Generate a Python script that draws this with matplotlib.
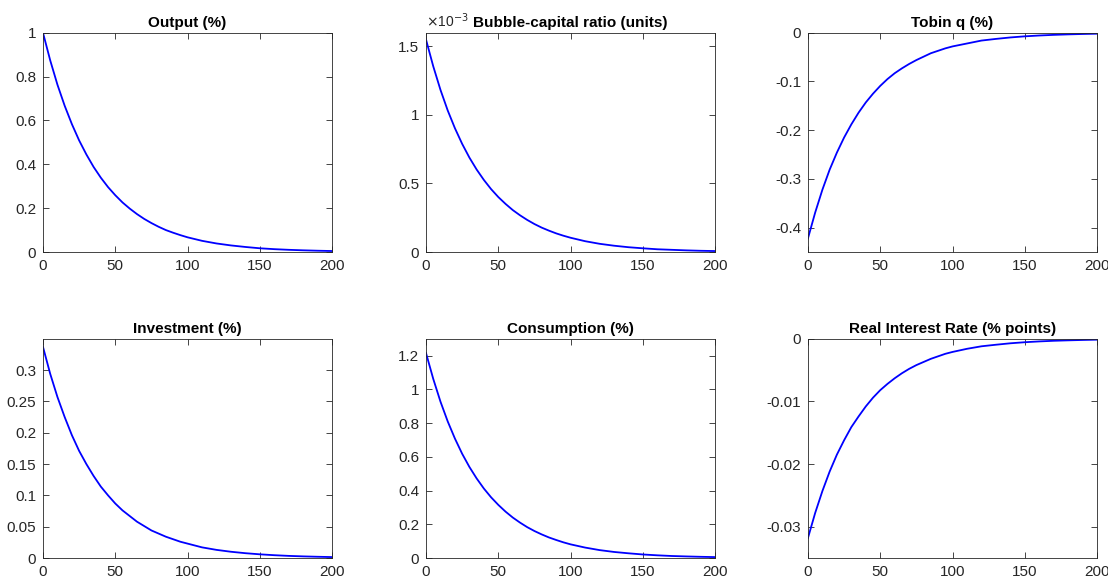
import matplotlib.pyplot as plt
from matplotlib.ticker import FuncFormatter

periods = [0, 5, 10, 15, 20, 25, 30, 35, 40, 45, 50, 55, 60, 65, 70, 75, 80,
           85, 90, 95, 100, 110, 120, 130, 140, 150, 160, 170, 180, 190, 200]

output = [1.0, 0.874, 0.763, 0.667, 0.583, 0.509, 0.445, 0.388, 0.339, 0.296,
          0.259, 0.226, 0.198, 0.173, 0.151, 0.132, 0.115, 0.100, 0.088,
          0.077, 0.067, 0.051, 0.039, 0.030, 0.023, 0.017, 0.013, 0.010,
          0.0077, 0.0059, 0.0045]
bubble_ratio = [1.55e-3, 1.355e-3, 1.183e-3, 1.033e-3, 0.903e-3, 0.789e-3,
                0.689e-3, 0.602e-3, 0.526e-3, 0.459e-3, 0.401e-3, 0.351e-3,
                0.306e-3, 0.268e-3, 0.234e-3, 0.204e-3, 0.178e-3, 0.156e-3,
                0.136e-3, 0.119e-3, 0.104e-3, 0.079e-3, 0.060e-3, 0.046e-3,
                0.035e-3, 0.027e-3, 0.020e-3, 0.016e-3, 0.012e-3, 0.009e-3,
                0.007e-3]
tobin_q = [-0.422, -0.369, -0.322, -0.281, -0.246, -0.215, -0.188, -0.164,
           -0.143, -0.125, -0.109, -0.095, -0.083, -0.073, -0.064, -0.056,
           -0.049, -0.042, -0.037, -0.032, -0.028, -0.022, -0.016, -0.0126,
           -0.0096, -0.0073, -0.0056, -0.0043, -0.0033, -0.0025, -0.0019]
investment = [0.337, 0.294, 0.257, 0.225, 0.196, 0.171, 0.150, 0.131, 0.114,
              0.100, 0.087, 0.076, 0.067, 0.058, 0.051, 0.044, 0.039, 0.034,
              0.030, 0.026, 0.023, 0.017, 0.013, 0.010, 0.0077, 0.0059,
              0.0045, 0.0034, 0.0026, 0.0020, 0.0015]
consumption = [1.215, 1.062, 0.927, 0.810, 0.708, 0.618, 0.540, 0.472, 0.412,
               0.360, 0.315, 0.275, 0.240, 0.210, 0.183, 0.160, 0.140, 0.122,
               0.107, 0.093, 0.081, 0.062, 0.047, 0.036, 0.028, 0.021, 0.016,
               0.012, 0.0094, 0.0072, 0.0055]
real_rate = [-0.0318, -0.0278, -0.0243, -0.0212, -0.0185, -0.0162, -0.0141,
             -0.0124, -0.0108, -0.0094, -0.0082, -0.0072, -0.0063, -0.0055,
             -0.0048, -0.0042, -0.0037, -0.0032, -0.0028, -0.0024, -0.0021,
             -0.0016, -0.0012, -0.00095, -0.00072, -0.00055, -0.00042,
             -0.00032, -0.00025, -0.00019, -0.00014]

titles = ['Output (%)', 'Bubble-capital ratio (units)', 'Tobin q (%)',
          'Investment (%)', 'Consumption (%)', 'Real Interest Rate (% points)']
x_ticks = [0, 50, 100, 150, 200]

GRAY = '#262626'
plt.rcParams['font.family'] = ['Liberation Sans', 'DejaVu Sans']

fig = plt.figure(figsize=(11.08, 5.8), dpi=100)

lefts = [0.0388, 0.3845, 0.7292]
bottoms = [0.5655, 0.0379]
width, height = 0.261, 0.378

panels = [
    (output, 1, (0, 1), [0, 0.2, 0.4, 0.6, 0.8, 1]),
    (bubble_ratio, 1e-3, (0, 1.6), [0, 0.5, 1, 1.5]),
    (tobin_q, 1, (-0.45, 0), [-0.4, -0.3, -0.2, -0.1, 0]),
    (investment, 1, (0, 0.35), [0, 0.05, 0.1, 0.15, 0.2, 0.25, 0.3]),
    (consumption, 1, (0, 1.3), [0, 0.2, 0.4, 0.6, 0.8, 1, 1.2]),
    (real_rate, 1, (-0.035, 0), [-0.03, -0.02, -0.01, 0]),
]

for i, (series, scale, ylim, yticks) in enumerate(panels):
    ax = fig.add_axes([lefts[i % 3], bottoms[i // 3], width, height])
    ax.plot(periods, [v / scale for v in series], color='#0000ff', lw=1.3)
    ax.set_xlim(0, 200)
    ax.set_ylim(*ylim)
    ax.set_xticks(x_ticks)
    ax.set_yticks(yticks)
    ax.xaxis.set_major_formatter(FuncFormatter(lambda v, p: '%g' % v))
    ax.yaxis.set_major_formatter(FuncFormatter(lambda v, p: '%g' % v))
    ax.tick_params(direction='in', top=True, right=True, length=4,
                   width=0.6, colors=GRAY, labelsize=11, pad=5)
    for sp in ax.spines.values():
        sp.set_color(GRAY)
        sp.set_linewidth(0.6)
    ax.set_title(titles[i], fontsize=11, fontweight='bold', pad=4)
    if scale != 1:
        ax.text(0, 1.012, r'$\times$10$^{-3}$', transform=ax.transAxes,
                fontsize=10, color=GRAY, va='bottom', ha='left')

fig.savefig('out.png', dpi=100)
